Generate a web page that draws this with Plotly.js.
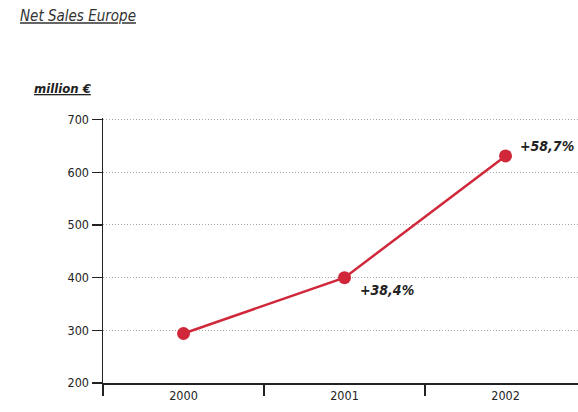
<!DOCTYPE html>
<html>
<head>
<meta charset="utf-8">
<script src="https://cdn.plot.ly/plotly-3.0.1.min.js"></script>
<style>html,body{margin:0;padding:0;background:#fff;}#chart{width:578px;height:412px;}</style>
</head>
<body>
<div id="chart"></div>
<script>
var years = ["2000", "2001", "2002"];
var sales = [294, 400, 631];
var growthLabels = ["", "+38,4%", "+58,7%"];
var yTicks = [200, 300, 400, 500, 600, 700];

var FONT = "DejaVu Sans Condensed, DejaVu Sans, sans-serif";
var red = "#d0283a";

var trace = {
  x: years, y: sales, type: "scatter", mode: "lines+markers",
  line: {color: red, width: 2.5},
  marker: {color: red, size: 13},
  hoverinfo: "none", cliponaxis: false
};

var annotations = [];
for (var i = 0; i < years.length; i++) {
  if (!growthLabels[i]) continue;
  annotations.push({
    x: i, y: sales[i], xref: "x", yref: "y",
    text: "<b><i>" + growthLabels[i] + "</i></b>",
    showarrow: false, xanchor: "left", yanchor: "middle",
    xshift: i === 1 ? 13 : 12, yshift: i === 1 ? -12 : 10,
    font: {family: FONT, size: 14, color: "#222"}
  });
}
annotations.push({
  xref: "paper", yref: "paper", x: -0.15, y: 1.113,
  xanchor: "left", yanchor: "middle", showarrow: false,
  text: "<u><b><i>million €</i></b></u>",
  font: {family: FONT, size: 13, color: "#222"}
});

var layout = {
  width: 578, height: 412,
  margin: {l: 103, r: 0, t: 118, b: 29, pad: 0},
  paper_bgcolor: "#fff", plot_bgcolor: "#fff",
  showlegend: false,
  title: {
    text: "<u><i>Net Sales Europe</i></u>",
    x: 20 / 578, xref: "container", xanchor: "left",
    y: 1 - 16 / 412, yref: "container", yanchor: "middle",
    font: {family: FONT, size: 15, color: "#333"}
  },
  xaxis: {
    type: "category", range: [-0.5, 2.45],
    tickson: "boundaries", ticks: "outside", ticklen: 11, tickwidth: 1.5, tickcolor: "#222",
    showline: true, linecolor: "#222", linewidth: 1.5,
    showgrid: false, zeroline: false,
    tickfont: {family: FONT, size: 12.5, color: "#222"}
  },
  yaxis: {
    range: [200, 703], tickvals: yTicks,
    ticks: "outside", ticklen: 10, tickwidth: 1.5, tickcolor: "#222",
    showline: true, linecolor: "#222", linewidth: 1.5,
    showgrid: true, gridcolor: "#aaa", gridwidth: 1, griddash: "1px,2px",
    zeroline: false,
    tickfont: {family: FONT, size: 12.5, color: "#222"}
  },
  annotations: annotations
};

Plotly.newPlot("chart", [trace], layout, {displayModeBar: false, staticPlot: true});
</script>
</body>
</html>
